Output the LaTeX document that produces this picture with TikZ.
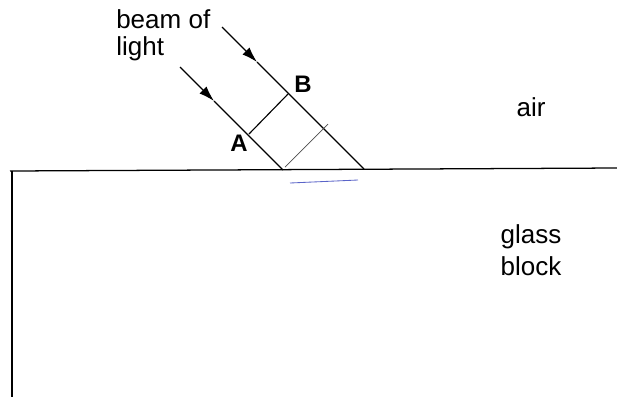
\documentclass[tikz,border=0pt]{standalone}
\usepackage{fontspec}
\setmainfont{Liberation Sans}
\usetikzlibrary{arrows.meta,positioning}
\definecolor{penblue}{RGB}{90,100,200}

\begin{document}
\begin{tikzpicture}[x=0.025cm, y=-0.025cm,
  ray/.style={line width=0.8pt},
  front/.style={line width=0.5pt, black!70},
  lbl/.style={font=\fontsize{18.5}{19.5}\selectfont, align=left, inner sep=0pt},
  pt/.style={font=\fontsize{17}{19}\selectfont\bfseries, inner sep=0pt},
]
\useasboundingbox (0,0) rectangle (617,397);
% glass block
\coordinate (sl) at (10,171);
\coordinate (sr) at (617,168);
\coordinate (bl) at (12,397);
\draw[line width=0.9pt] (sl) -- (sr);
\draw[line width=0.9pt] (12,171) -- (bl);
% rays
\coordinate (a0) at (180,67);
\coordinate (am) at (214,101);
\coordinate (a1) at (283,170);
\coordinate (b0) at (222,27);
\coordinate (bm) at (257,62);
\coordinate (b1) at (364,169);
\draw[ray, -{Latex[length=11pt,width=7pt]}] (a0) -- (am);
\draw[ray] (am) -- (a1);
\draw[ray, -{Latex[length=11pt,width=7pt]}] (b0) -- (bm);
\draw[ray] (bm) -- (b1);
% wavefronts
\coordinate (wa) at (249,134);
\coordinate (wb) at (288,94);
\draw[ray] (wa) -- (wb);
\coordinate (wc) at (285,167);
\coordinate (wd) at (328,124);
\draw[front] (wc) -- (wd);
% pen mark
\coordinate (p0) at (290,183);
\coordinate (p1) at (358,180);
\draw[penblue, line width=0.6pt] (p0) -- (p1);
% labels
\node[lbl, anchor=north west] (beam) at (116,9) {beam of\\light};
\node[pt] (A) at (239,143) {A};
\node[pt] (B) at (303,84) {B};
\node[lbl] (air) at (531,107) {air};
\node[lbl, align=center, font=\fontsize{18.5}{23}\selectfont] (glass) at (531,250) {glass\\block};
\end{tikzpicture}
\end{document}
